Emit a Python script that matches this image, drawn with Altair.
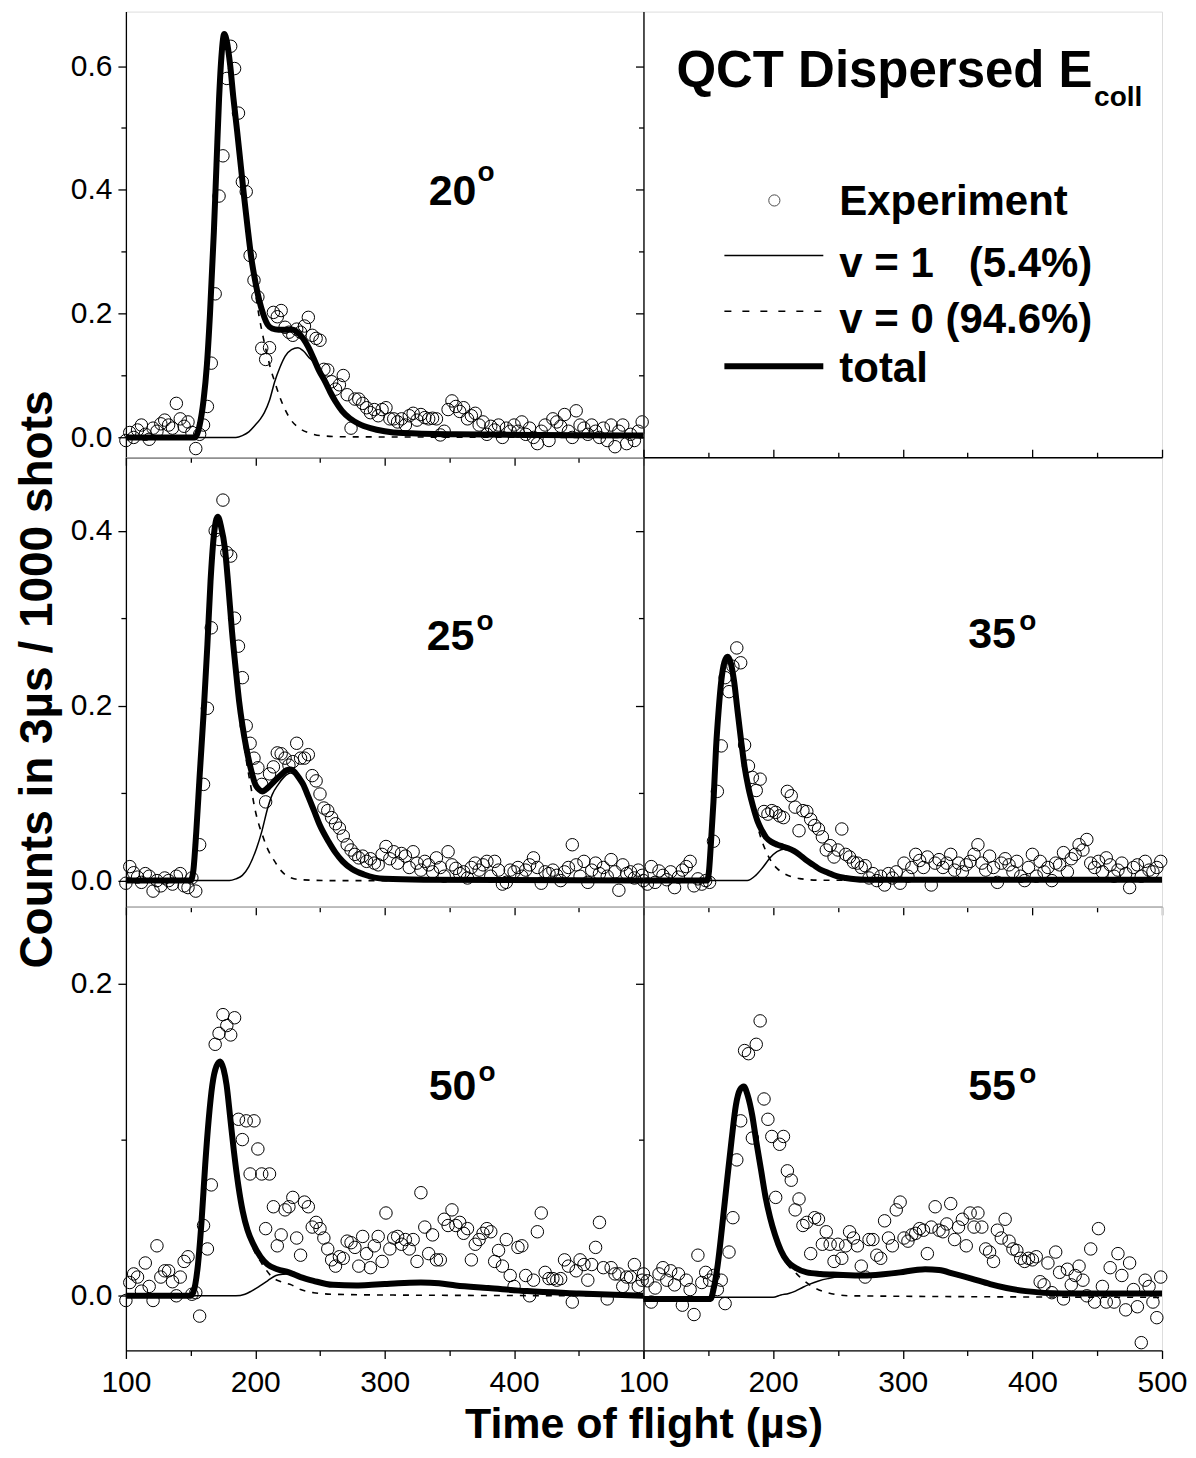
import altair as alt
import pandas as pd

FONT = "Liberation Sans"

# ---------------- data ----------------
T_BINS = list(range(100, 500, 3))  # 3 us time-of-flight bins

EXP_20 = [-0.005, 0.008, 0.0, 0.012, 0.02, 0.005, -0.003, 0.015, 0.01, 0.022,
          0.028, 0.02, 0.015, 0.055, 0.03, 0.018, 0.025, 0.008, -0.018, 0.005,
          0.02, 0.05, 0.12, 0.232, 0.39, 0.455, 0.58, 0.632, 0.596, 0.524,
          0.413, 0.397, 0.294, 0.254, 0.227, 0.144, 0.126, 0.145, 0.202, 0.195,
          0.205, 0.178, 0.17, 0.165, 0.175, 0.17, 0.18, 0.194, 0.165, 0.16,
          0.157, 0.11, 0.109, 0.09, 0.078, 0.085, 0.1, 0.069, 0.015, 0.062,
          0.062, 0.055, 0.048, 0.04, 0.045, 0.035, 0.045, 0.048, 0.03, 0.03,
          0.025, 0.03, 0.02, 0.035, 0.039, 0.028, 0.037, 0.032, 0.03, 0.031,
          0.03, 0.004, 0.01, 0.045, 0.059, 0.05, 0.042, 0.048, 0.03, 0.035,
          0.039, 0.02, 0.025, 0.005, 0.018, 0.012, 0.02, 0.0, 0.015, 0.01,
          0.02, 0.01, 0.025, 0.005, 0.015, 0.0, -0.01, 0.01, 0.02, -0.005,
          0.03, 0.025, 0.018, 0.037, 0.01, 0.0, 0.043, 0.02, 0.015, 0.005,
          0.02, 0.01, 0.0, 0.015, -0.005, 0.02, -0.015, 0.01, 0.02, -0.01,
          0.005, -0.005, 0.01, 0.025]

EXP_25 = [-0.003, 0.016, 0.009, 0.004, -0.002, 0.008, 0.005, -0.012, 0.0, -0.006,
          0.003, 0.0, -0.004, 0.005, 0.008, -0.006, -0.008, 0.003, -0.012, 0.041,
          0.11, 0.197, 0.289, 0.4, 0.39, 0.435, 0.375, 0.371, 0.3, 0.268,
          0.232, 0.177, 0.157, 0.14, 0.129, 0.11, 0.09, 0.122, 0.13, 0.146,
          0.145, 0.14, 0.132, 0.136, 0.157, 0.14, 0.14, 0.144, 0.12, 0.114,
          0.099, 0.083, 0.08, 0.072, 0.065, 0.06, 0.051, 0.041, 0.035, 0.03,
          0.026, 0.028, 0.022, 0.025, 0.02, 0.018, 0.03, 0.039, 0.025, 0.033,
          0.02, 0.031, 0.028, 0.015, 0.033, 0.02, 0.012, 0.022, 0.018, 0.01,
          0.026, 0.015, 0.005, 0.033, 0.018, 0.014, 0.008, 0.01, 0.003, 0.015,
          0.02, 0.012, 0.018, 0.022, 0.005, 0.022, 0.012, -0.004, -0.002, 0.012,
          0.01, 0.015, 0.005, 0.012, 0.018, 0.026, 0.015, -0.003, 0.01, 0.008,
          0.012, 0.006, 0.0, 0.01, 0.015, 0.041, 0.018, 0.005, 0.022, -0.002,
          0.012, 0.02, 0.008, 0.015, 0.005, 0.024, 0.01, -0.011, 0.018, 0.008,
          0.01, 0.003, 0.012, 0.006]

EXP_35 = [0.0, -0.004, 0.016, -0.002, 0.011, 0.006, 0.001, 0.01, -0.008, 0.004,
          0.012, 0.016, 0.022, -0.006, 0.002, -0.004, 0.0, -0.002, 0.045, 0.102,
          0.154, 0.232, 0.216, 0.245, 0.266, 0.249, 0.155, 0.131, 0.118, 0.103,
          0.116, 0.079, 0.076, 0.08, 0.078, 0.074, 0.072, 0.102, 0.097, 0.084,
          0.057, 0.08, 0.079, 0.07, 0.063, 0.059, 0.05, 0.035, 0.04, 0.027,
          0.035, 0.059, 0.03, 0.027, 0.021, 0.02, 0.015, 0.017, 0.003, 0.008,
          0.0, 0.005, -0.005, 0.008, 0.003, 0.01, -0.003, 0.02, 0.005, 0.015,
          0.03, 0.023, 0.015, 0.027, -0.005, 0.02, 0.024, 0.015, 0.02, 0.03,
          0.012, 0.02, 0.01, 0.018, 0.022, 0.03, 0.041, 0.02, 0.012, 0.028,
          0.015, -0.002, 0.02, 0.025, 0.018, 0.01, 0.022, 0.005, 0.0, 0.015,
          0.03, 0.005, 0.022, 0.01, 0.015, 0.0, 0.02, 0.018, 0.032, 0.01,
          0.025, 0.03, 0.041, 0.035, 0.047, 0.02, 0.015, 0.022, 0.01, 0.026,
          0.018, 0.005, 0.012, 0.02, 0.008, -0.008, 0.015, 0.018, 0.005, 0.022,
          0.012, 0.01, 0.015, 0.022]

EXP_50 = [-0.003, 0.0085, 0.014, 0.012, 0.003, 0.021, 0.006, -0.003, 0.032, 0.012,
          0.016, 0.016, 0.009, 0.0, 0.012, 0.022, 0.025, 0.001, 0.002, -0.013,
          0.045, 0.03, 0.071, 0.161, 0.168, 0.18, 0.173, 0.167, 0.178, 0.113,
          0.1, 0.112, 0.078, 0.112, 0.094, 0.078, 0.043, 0.078, 0.057, 0.032,
          0.039, 0.055, 0.057, 0.063, 0.037, 0.026, 0.06, 0.057, 0.044, 0.047,
          0.043, 0.037, 0.03, 0.023, 0.019, 0.025, 0.024, 0.035, 0.034, 0.031,
          0.019, 0.038, 0.027, 0.018, 0.032, 0.038, 0.022, 0.053, 0.03, 0.037,
          0.038, 0.033, 0.036, 0.03, 0.036, 0.022, 0.066, 0.044, 0.027, 0.039,
          0.023, 0.023, 0.049, 0.045, 0.055, 0.045, 0.047, 0.04, 0.043, 0.023,
          0.033, 0.036, 0.04, 0.043, 0.041, 0.022, 0.029, 0.019, 0.036, 0.013,
          0.006, 0.031, 0.032, 0.013, 0.0, 0.01, 0.041, 0.053, 0.015, 0.011,
          0.011, 0.01, 0.011, 0.023, 0.019, -0.004, 0.016, 0.023, 0.02, 0.01,
          0.02, 0.031, 0.047, 0.018, -0.002, 0.018, 0.014, 0.014, 0.006, 0.012,
          0.012, 0.02, 0.006, 0.01]

EXP_55 = [0.014, 0.0096, -0.004, 0.005, 0.014, 0.018, 0.01, 0.016, 0.007, 0.014,
          -0.006, 0.01, 0.004, -0.012, 0.026, 0.0085, 0.015, 0.01, 0.013, 0.004,
          0.01, -0.005, 0.028, 0.05, 0.087, 0.112, 0.157, 0.155, 0.101, 0.161,
          0.176, 0.126, 0.113, 0.102, 0.063, 0.097, 0.102, 0.08, 0.074, 0.055,
          0.062, 0.045, 0.047, 0.027, 0.05, 0.049, 0.033, 0.041, 0.033, 0.022,
          0.033, 0.024, 0.032, 0.041, 0.037, 0.032, 0.019, 0.012, 0.036, 0.036,
          0.026, 0.024, 0.048, 0.037, 0.032, 0.055, 0.06, 0.037, 0.035, 0.039,
          0.04, 0.043, 0.042, 0.027, 0.044, 0.057, 0.042, 0.041, 0.046, 0.059,
          0.036, 0.044, 0.049, 0.032, 0.053, 0.044, 0.053, 0.044, 0.03, 0.028,
          0.022, 0.042, 0.037, 0.049, 0.035, 0.03, 0.029, 0.024, 0.022, 0.024,
          0.023, 0.025, 0.009, 0.007, 0.021, 0.002, 0.028, 0.015, -0.002, 0.017,
          0.007, 0.013, 0.019, 0.01, 0.0, 0.03, -0.004, 0.043, 0.006, -0.004,
          0.018, -0.004, 0.027, 0.013, -0.009, 0.021, 0.004, -0.007, -0.03, 0.01,
          0.006, -0.004, -0.014, 0.012]

# fitted curves (t, counts)
TOTAL_20 = [(100, 0), (153, 0), (155, 0.005), (157, 0.02), (160, 0.06), (162.6, 0.117), (165, 0.2),
            (168, 0.333), (170, 0.44), (172, 0.547), (174, 0.62), (176, 0.652), (178, 0.64), (180.6, 0.601),
            (183, 0.55), (186, 0.494), (189, 0.435), (191.5, 0.386), (194, 0.34), (197, 0.289), (200, 0.252),
            (203, 0.222), (206, 0.2), (209.6, 0.182), (213, 0.176), (218, 0.174), (223, 0.174), (229, 0.174),
            (233, 0.169), (237, 0.16), (241, 0.146), (245, 0.128), (249, 0.109), (254, 0.09), (258, 0.073),
            (262, 0.058), (267, 0.043), (273, 0.031), (280, 0.022), (289, 0.015), (300, 0.01), (314, 0.007),
            (355, 0.005), (420, 0.004), (500, 0.003)]
V1_20 = [(100, 0), (185, 0), (190, 0.003), (195, 0.009), (200, 0.02), (204, 0.03), (207, 0.04), (211, 0.06),
         (215, 0.09), (219, 0.113), (223, 0.131), (228, 0.142), (233, 0.145), (237, 0.14), (242, 0.128),
         (245, 0.122), (249, 0.106), (254, 0.088), (258, 0.072), (262, 0.057), (267, 0.042), (273, 0.03),
         (280, 0.021), (289, 0.014), (300, 0.009), (314, 0.006), (355, 0.004), (420, 0.003), (500, 0.002)]
V0_20 = [(100, 0), (153, 0), (155, 0.005), (157, 0.02), (160, 0.06), (162.6, 0.117), (165, 0.2), (168, 0.333),
         (170, 0.44), (172, 0.547), (174, 0.62), (176, 0.652), (178, 0.64), (180.6, 0.601), (183, 0.55),
         (186, 0.494), (189, 0.434), (191.5, 0.384), (194, 0.336), (197, 0.282), (200, 0.235), (203, 0.195),
         (206, 0.163), (209, 0.135), (212, 0.11), (215, 0.09), (219, 0.065), (223, 0.045), (228, 0.027),
         (234, 0.015), (242, 0.007), (250, 0.003), (270, 0.001), (500, 0)]

TOTAL_25 = [(100, 0), (150, 0), (152, 0.01), (154.4, 0.056), (157, 0.12), (160, 0.19), (163, 0.27),
            (165.4, 0.342), (168, 0.395), (171, 0.416), (173.5, 0.405), (176.5, 0.38), (179, 0.34), (182, 0.285),
            (185, 0.24), (187.5, 0.205), (190, 0.178), (193, 0.152), (196.5, 0.128), (200, 0.11), (203, 0.104),
            (205.4, 0.102), (208, 0.104), (211, 0.108), (215, 0.114), (220, 0.121), (224, 0.126), (227.4, 0.127),
            (231, 0.123), (234, 0.117), (237, 0.11), (241, 0.096), (245.4, 0.08), (250, 0.063), (256.5, 0.045),
            (262, 0.032), (267.5, 0.022), (275, 0.013), (284, 0.007), (300, 0.002), (330, 0.001), (500, 0.0)]
V1_25 = [(100, 0), (180, 0), (185, 0.002), (190, 0.006), (195, 0.016), (201, 0.037), (205, 0.056),
         (209.6, 0.083), (213, 0.098), (217.8, 0.11), (222, 0.118), (227.4, 0.123), (231, 0.121), (234, 0.116),
         (237, 0.109), (241, 0.095), (245.4, 0.079), (250, 0.062), (256.5, 0.045), (262, 0.032), (267.5, 0.022),
         (275, 0.013), (284, 0.007), (300, 0.002), (330, 0.001), (500, 0.0)]
V0_25 = [(100, 0), (150, 0), (152, 0.01), (154.4, 0.056), (157, 0.12), (160, 0.19), (163, 0.27), (165.4, 0.342),
         (168, 0.395), (171, 0.416), (173.5, 0.405), (176.5, 0.38), (179, 0.34), (182, 0.285), (185, 0.238),
         (187.5, 0.2), (190, 0.17), (193, 0.138), (196.5, 0.108), (200, 0.08), (203, 0.063), (206, 0.05),
         (209, 0.038), (212, 0.029), (215, 0.022), (219, 0.013), (223, 0.007), (228, 0.003), (235, 0.001),
         (260, 0), (500, 0)]

TOTAL_35 = [(100, 0), (149, 0), (150.5, 0.01), (151.8, 0.037), (154, 0.09), (156, 0.152), (158, 0.195),
            (160, 0.228), (162.5, 0.25), (164.9, 0.256), (167.5, 0.248), (169.9, 0.228), (172.5, 0.195),
            (175.4, 0.159), (178, 0.13), (181, 0.106), (184.5, 0.085), (188, 0.068), (191.5, 0.057),
            (194.8, 0.049), (199, 0.044), (203.3, 0.041), (207.5, 0.039), (211.6, 0.037), (216, 0.034),
            (220, 0.03), (225, 0.024), (231, 0.018), (236, 0.013), (242.3, 0.009), (249, 0.005), (256, 0.003),
            (270, 0.001), (500, 0.001)]
V1_35 = [(100, 0), (180, 0), (186.6, 0.006), (192, 0.015), (197.7, 0.026), (203, 0.033), (208.7, 0.036),
         (212, 0.036), (216, 0.034), (220, 0.03), (225, 0.024), (231, 0.018), (236, 0.013), (242.3, 0.009),
         (249, 0.005), (256, 0.003), (270, 0.001), (500, 0.001)]
V0_35 = [(100, 0), (149, 0), (150.5, 0.01), (151.8, 0.037), (154, 0.09), (156, 0.152), (158, 0.195), (160, 0.228),
         (162.5, 0.25), (164.9, 0.256), (167.5, 0.248), (169.9, 0.228), (172.5, 0.195), (175.4, 0.159),
         (178, 0.13), (181, 0.105), (184.5, 0.082), (188, 0.062), (191, 0.047), (195, 0.032), (199, 0.021),
         (203, 0.014), (208.7, 0.008), (215, 0.004), (222, 0.002), (235, 0.0005), (500, 0)]

TOTAL_50 = [(100, 0), (150, 0), (152, 0.002), (155.7, 0.02), (158.5, 0.048), (161.3, 0.084), (164, 0.113),
            (166.8, 0.135), (170, 0.147), (172.9, 0.15), (175.5, 0.145), (177.8, 0.135), (180.5, 0.115),
            (183.4, 0.093), (187, 0.07), (190.3, 0.054), (194, 0.042), (198.5, 0.033), (204, 0.025),
            (209.5, 0.02), (217, 0.017), (226, 0.015), (235, 0.012), (245, 0.0096), (260, 0.007), (278, 0.0066),
            (290, 0.007), (300, 0.0075), (315, 0.0082), (328, 0.0085), (342, 0.008), (355, 0.0066), (380, 0.005),
            (410, 0.003), (450, 0.0015), (500, 0.0)]
V1_50 = [(100, 0), (185, 0), (192, 0.001), (197, 0.003), (203, 0.006), (209.5, 0.0096), (216, 0.013),
         (223, 0.014), (228, 0.0145), (235, 0.0115), (245, 0.009), (260, 0.0065), (278, 0.006), (290, 0.0065),
         (300, 0.007), (315, 0.0077), (328, 0.008), (342, 0.0075), (355, 0.0062), (380, 0.0047), (410, 0.0028),
         (450, 0.0013), (500, 0)]
V0_50 = [(100, 0), (150, 0), (152, 0.002), (155.7, 0.02), (158.5, 0.048), (161.3, 0.084), (164, 0.113),
         (166.8, 0.135), (170, 0.147), (172.9, 0.15), (175.5, 0.145), (177.8, 0.135), (180.5, 0.115),
         (183.4, 0.093), (187, 0.07), (190.3, 0.053), (194, 0.04), (198.5, 0.03), (204, 0.022), (208, 0.017),
         (213, 0.012), (220, 0.009), (228, 0.007), (235, 0.004), (245, 0.002), (260, 0.001), (300, 0.0005),
         (500, 0)]

TOTAL_55 = [(100, -0.002), (151.8, -0.002), (154, 0.004), (157.3, 0.02), (160.5, 0.043), (164.4, 0.073),
            (168, 0.1), (171.3, 0.122), (174.5, 0.132), (177.4, 0.134), (180.5, 0.128), (183.8, 0.116),
            (187, 0.099), (190.8, 0.08), (194, 0.064), (197.7, 0.05), (201.5, 0.039), (206, 0.029), (211, 0.022),
            (217.2, 0.018), (226, 0.015), (236.6, 0.014), (250, 0.0135), (270, 0.013), (285, 0.0138),
            (298, 0.015), (310, 0.0165), (317.3, 0.017), (328, 0.0165), (339.7, 0.014), (353, 0.011),
            (367.4, 0.0075), (380, 0.005), (395, 0.003), (423, 0.0015), (500, 0.0015)]
V1_55 = [(100, -0.001), (200, -0.001), (206, 0.0005), (212, 0.0015), (217.2, 0.003), (223, 0.0055),
         (228.3, 0.0075), (235, 0.0095), (242.2, 0.011), (250, 0.012), (270, 0.012), (285, 0.0128), (298, 0.014),
         (310, 0.0155), (317.3, 0.016), (328, 0.0155), (339.7, 0.013), (353, 0.01), (367.4, 0.0068),
         (380, 0.0045), (395, 0.0025), (423, 0.001), (500, 0.001)]
V0_55 = [(100, -0.002), (151.8, -0.002), (154, 0.004), (157.3, 0.02), (160.5, 0.043), (164.4, 0.073), (168, 0.1),
         (171.3, 0.122), (174.5, 0.132), (177.4, 0.134), (180.5, 0.128), (183.8, 0.116), (187, 0.099),
         (190.8, 0.08), (194, 0.064), (197.7, 0.049), (201.5, 0.037), (206, 0.027), (211, 0.02), (217, 0.015),
         (222, 0.011), (230, 0.006), (242, 0.002), (260, 0.0), (500, -0.001)]

X_DOMAIN = [100, 500]
X_MAJOR = [100, 200, 300, 400, 500]
X_MINOR = [150, 250, 350, 450]
Y_TOP = [-0.032, 0.688]
Y_MID = [-0.030, 0.484]
Y_BOT = [-0.035, 0.249]

LEGEND_LABELS = ["Experiment", "v = 1\u00a0\u00a0\u00a0(5.4%)", "v = 0 (94.6%)", "total"]
TITLE_MAIN = "QCT Dispersed E"
TITLE_SUB = "coll"
X_TITLE = "Time of flight (\u00b5s)"
Y_TITLE = "Counts in 3\u00b5s / 1000 shots"

ONE = pd.DataFrame({"a": [0]})


def curve_df(pairs):
    return pd.DataFrame(pairs, columns=["t", "v"])


def ax(**kw):
    d = dict(grid=False, domainColor="black", domainWidth=1.3, tickColor="black", tickWidth=1.3,
             labelFont=FONT, labelFontSize=30, labelColor="black", labelFlush=False,
             labelOverlap=False, title=None)
    d.update(kw)
    return alt.Axis(**d)


def text_layer(txt, x, y, size, weight="bold"):
    return alt.Chart(ONE).mark_text(font=FONT, fontSize=size, fontWeight=weight, align="left",
                                    baseline="alphabetic", color="black").encode(
        x=alt.value(x), y=alt.value(y), text=alt.value(txt))


def panel(exp, v0, v1, tot, ydom, ymaj, ymin, w, h, label, lab_xy, deg_xy,
          ylabels, xlabels, top=False, hide500=False, xtitle=None, ytitle=None):
    xs = alt.Scale(domain=X_DOMAIN, nice=False, zero=False)
    ys = alt.Scale(domain=ydom, nice=False, zero=False)
    xkw = dict(orient="bottom", values=X_MAJOR, tickSize=8, labels=xlabels, labelPadding=9)
    if hide500:
        xkw["labelExpr"] = "datum.value == 500 ? '' : datum.label"
    if xtitle:
        xkw.update(title=xtitle, titleFont=FONT, titleFontSize=43, titleFontWeight="bold",
                   titleColor="black", titleX=w, titleY=87, titleAlign="center",
                   titleBaseline="alphabetic", titleAngle=0)
    ykw = dict(orient="left", values=ymaj, tickSize=8, labels=ylabels, labelPadding=6, format=".1f")
    if ytitle:
        ykw.update(title=ytitle, titleFont=FONT, titleFontSize=46, titleFontWeight="bold",
                   titleColor="black", titleX=-74, titleY=222, titleAlign="center",
                   titleBaseline="alphabetic", titleAngle=270)
    pts = alt.Chart(pd.DataFrame({"t": T_BINS, "v": exp})).mark_point(
        shape="circle", filled=False, color="black", size=155, strokeWidth=1, opacity=1).encode(
        x=alt.X("t:Q", scale=xs, axis=ax(**xkw)),
        y=alt.Y("v:Q", scale=ys, axis=ax(**ykw)))
    l0 = alt.Chart(curve_df(v0)).mark_line(color="black", strokeWidth=1.6, strokeDash=[6, 7],
                                            interpolate="monotone").encode(
        x=alt.X("t:Q", scale=xs, axis=ax(orient="bottom", values=X_MINOR, tickSize=5, labels=False, domain=False)),
        y=alt.Y("v:Q", scale=ys, axis=ax(orient="left", values=ymin, tickSize=5, labels=False, domain=False)))
    if top:
        ax1 = ax(orient="top", values=X_MAJOR, tickSize=8, labels=False)
        ax2 = ax(orient="top", values=X_MINOR, tickSize=5, labels=False, domain=False)
    else:
        ax1 = None
        ax2 = None
    l1 = alt.Chart(curve_df(v1)).mark_line(color="black", strokeWidth=1.5, interpolate="monotone").encode(
        x=alt.X("t:Q", scale=xs, axis=ax1),
        y=alt.Y("v:Q", scale=ys, axis=None))
    lt = alt.Chart(curve_df(tot)).mark_line(color="black", strokeWidth=6, interpolate="monotone").encode(
        x=alt.X("t:Q", scale=xs, axis=ax2),
        y=alt.Y("v:Q", scale=ys, axis=None))
    lab = text_layer(label, lab_xy[0], lab_xy[1], 43)
    deg = text_layer("o", deg_xy[0], deg_xy[1], 28)
    return alt.layer(pts, l0, l1, lt, lab, deg).resolve_axis(
        x="independent", y="independent").properties(width=w, height=h)


# top-right panel: title + legend
def legend_panel(w, h):
    xs = alt.Scale(domain=X_DOMAIN, nice=False, zero=False)
    ys = alt.Scale(domain=Y_TOP, nice=False, zero=False)
    df = pd.DataFrame({"t": [100, 500], "v": [0.0, 0.6]})
    a1 = alt.Chart(df).mark_point(opacity=0).encode(
        x=alt.X("t:Q", scale=xs, axis=None),
        y=alt.Y("v:Q", scale=ys, axis=ax(orient="left", values=[0, 0.2, 0.4, 0.6], tickSize=8, labels=False)))
    a2 = alt.Chart(df).mark_point(opacity=0).encode(
        x=alt.X("t:Q", scale=xs, axis=None),
        y=alt.Y("v:Q", scale=ys, axis=ax(orient="left", values=[0.1, 0.3, 0.5], tickSize=5, labels=False,
                                          domain=False)))
    t1 = text_layer(TITLE_MAIN, 33, 75, 51)
    t2 = text_layer(TITLE_SUB, 451, 94, 28)
    sym = alt.Chart(ONE).mark_point(shape="circle", filled=False, color="black", size=125, strokeWidth=1).encode(
        x=alt.value(131), y=alt.value(189))
    r1 = alt.Chart(ONE).mark_rule(color="black", strokeWidth=1.5).encode(
        x=alt.value(81), x2=alt.value(180), y=alt.value(244))
    r0 = alt.Chart(ONE).mark_rule(color="black", strokeWidth=1.5, strokeDash=[7, 11]).encode(
        x=alt.value(81), x2=alt.value(180), y=alt.value(300))
    rt = alt.Chart(ONE).mark_rule(color="black", strokeWidth=6).encode(
        x=alt.value(81), x2=alt.value(180), y=alt.value(355))
    e1 = text_layer(LEGEND_LABELS[0], 196, 204, 42)
    e2 = text_layer(LEGEND_LABELS[1], 196, 266, 42)
    e3 = text_layer(LEGEND_LABELS[2], 196, 322, 42)
    e4 = text_layer(LEGEND_LABELS[3], 196, 371, 42)
    return alt.layer(a1, a2, t1, t2, sym, r1, r0, rt, e1, e2, e3, e4).resolve_axis(
        y="independent").properties(width=w, height=h)


WL, WR = 518, 519
H1, H2, H3 = 446, 450, 444

p20 = panel(EXP_20, V0_20, V1_20, TOTAL_20, Y_TOP, [0, 0.2, 0.4, 0.6], [0.1, 0.3, 0.5], WL, H1,
            "20", (303, 194), (352, 170), True, False)
ptr = legend_panel(WR, H1)
p25 = panel(EXP_25, V0_25, V1_25, TOTAL_25, Y_MID, [0, 0.2, 0.4], [0.1, 0.3], WL, H2,
            "25", (301, 193), (351, 173), True, False, ytitle=Y_TITLE)
p35 = panel(EXP_35, V0_35, V1_35, TOTAL_35, Y_MID, [0, 0.2, 0.4], [0.1, 0.3], WR, H2,
            "35", (325, 191), (376, 173), False, False, top=True)
p50 = panel(EXP_50, V0_50, V1_50, TOTAL_50, Y_BOT, [0, 0.2], [0.1], WL, H3,
            "50", (303, 193), (353, 174), True, True, hide500=True, xtitle=X_TITLE)
p55 = panel(EXP_55, V0_55, V1_55, TOTAL_55, Y_BOT, [0, 0.2], [0.1], WR, H3,
            "55", (325, 193), (376, 176), False, True)

chart = alt.concat(p20, ptr, p25, p35, p50, p55, columns=2, spacing=0, bounds="flush", align="each").properties(
    padding={"left": 6, "top": 2, "right": 0, "bottom": 0}
).configure_view(strokeWidth=0).configure(font=FONT, background="white")

chart.save("out.html", embed_options={"renderer": "svg", "actions": False})
